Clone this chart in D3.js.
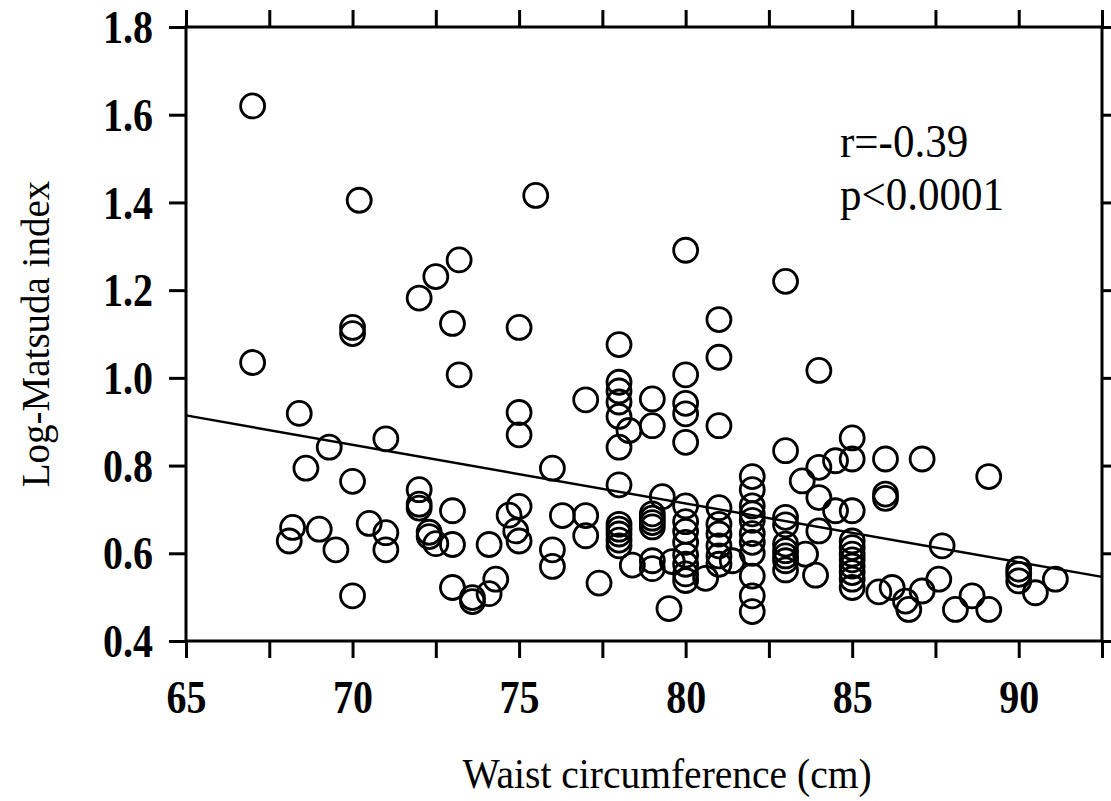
<!DOCTYPE html>
<html>
<head>
<meta charset="utf-8">
<script src="https://cdn.jsdelivr.net/npm/d3@7"></script>
<style>
   body { margin: 0; background: #fff; }
</style>
</head>
<body>
<div id="wrapper"></div>
<script>
// Waist circumference (cm) for each subject
const waist = [
   67.0, 67.0, 68.1, 68.2, 68.4, 68.6, 69.0, 69.3, 69.5,
   70.0, 70.0, 70.0, 70.0, 70.2, 70.5, 71.0, 71.0, 71.0,
   72.0, 72.0, 72.0, 72.0, 72.3, 72.3, 72.5, 72.5,
   73.0, 73.0, 73.0, 73.0, 73.2, 73.2, 73.6, 73.6,
   74.1, 74.1, 74.3, 74.7, 74.9,
   75.0, 75.0, 75.0, 75.0, 75.0, 75.5,
   76.0, 76.0, 76.0, 76.3,
   77.0, 77.0, 77.0, 77.4,
   78.0, 78.0, 78.0, 78.0, 78.0, 78.0, 78.0, 78.0, 78.0, 78.0, 78.0, 78.0, 78.3, 78.4,
   79.0, 79.0, 79.0, 79.0, 79.0, 79.0, 79.0, 79.0, 79.3, 79.5, 79.6,
   80.0, 80.0, 80.0, 80.0, 80.0, 80.0, 80.0, 80.0, 80.0, 80.0, 80.0, 80.0, 80.0, 80.6,
   81.0, 81.0, 81.0, 81.0, 81.0, 81.0, 81.0, 81.0, 81.0, 81.4,
   82.0, 82.0, 82.0, 82.0, 82.0, 82.0, 82.0, 82.0, 82.0, 82.0, 82.0,
   83.0, 83.0, 83.0, 83.0, 83.0, 83.0, 83.0, 83.0, 83.0, 83.5, 83.6, 83.9,
   84.0, 84.0, 84.0, 84.0, 84.5, 84.5,
   85.0, 85.0, 85.0, 85.0, 85.0, 85.0, 85.0, 85.0, 85.0, 85.0, 85.0, 85.8,
   86.0, 86.0, 86.0, 86.2, 86.6, 86.7,
   87.1, 87.1, 87.6, 87.7, 88.1, 88.6, 89.1, 89.1,
   90.0, 90.0, 90.0, 90.5, 91.1
];

// Log-Matsuda index, same order as waist
const logMatsuda = [
   1.620, 1.035, 0.628, 0.659, 0.919, 0.794, 0.655, 0.842, 0.608,
   1.115, 1.101, 0.764, 0.503, 1.405, 0.668, 0.861, 0.647, 0.608,
   1.182, 0.745, 0.712, 0.703, 0.648, 0.638, 1.231, 0.622,
   1.124, 0.697, 0.620, 0.522, 1.269, 1.007, 0.499, 0.490,
   0.620, 0.508, 0.541, 0.687, 0.651,
   1.115, 0.921, 0.870, 0.707, 0.628, 1.416,
   0.794, 0.608, 0.570, 0.686,
   0.950, 0.686, 0.640, 0.532,
   1.076, 0.990, 0.970, 0.945, 0.912, 0.842, 0.756, 0.666, 0.655, 0.644, 0.630, 0.617, 0.880, 0.573,
   0.952, 0.891, 0.690, 0.680, 0.670, 0.660, 0.583, 0.565, 0.729, 0.474, 0.581,
   1.291, 1.007, 0.942, 0.918, 0.853, 0.708, 0.672, 0.650, 0.625, 0.596, 0.575, 0.553, 0.538, 0.543,
   1.133, 1.047, 0.891, 0.704, 0.666, 0.644, 0.617, 0.594, 0.575, 0.583,
   0.775, 0.745, 0.708, 0.690, 0.675, 0.645, 0.625, 0.600, 0.548, 0.503, 0.467,
   1.220, 0.834, 0.682, 0.665, 0.621, 0.606, 0.594, 0.583, 0.562, 0.765, 0.598, 0.550,
   1.017, 0.796, 0.727, 0.651, 0.811, 0.697,
   0.863, 0.815, 0.697, 0.628, 0.613, 0.598, 0.585, 0.571, 0.556, 0.541, 0.522, 0.512,
   0.815, 0.735, 0.725, 0.522, 0.491, 0.472,
   0.815, 0.514, 0.541, 0.617, 0.472, 0.503, 0.775, 0.472,
   0.564, 0.552, 0.537, 0.510, 0.541
];

// regression line y = a + b*x
const regIntercept = 1.784;
const regSlope = -0.01338;

const xTicks = [65, 67.5, 70, 72.5, 75, 77.5, 80, 82.5, 85, 87.5, 90, 92.5];
const xTickLabels = [65, 70, 75, 80, 85, 90];
const yTicks = [0.4, 0.6, 0.8, 1.0, 1.2, 1.4, 1.6, 1.8];
const statLines = ["r=-0.39", "p<0.0001"];

let width = 1111;
let height = 801;
let margin = {top: 27, right: 9, bottom: 160, left: 186};
const serif = "'Liberation Serif', 'Times New Roman', serif";
const stretch = 1.15; // the scanned labels look a bit taller than plain Times

let svg = d3.select("#wrapper")
 .append("svg")
   .attr("width", width)
   .attr("height", height)
   .style("font-family", serif);

svg.append("rect")
   .attr("width", width)
   .attr("height", height)
   .attr("fill", "#fff");

let x = d3.scaleLinear()
   .domain([65, 92.5])
   .range([margin.left, width - margin.right]);

let y = d3.scaleLinear()
   .domain([0.4, 1.8])
   .range([height - margin.bottom, margin.top]);

const tickLen = 17;

// ticks on all four sides, only bottom + left get labels
let gBottom = svg.append("g")
   .attr("transform", `translate(0,${y(0.4)})`)
   .call(d3.axisBottom(x).tickValues(xTicks).tickSize(tickLen).tickSizeOuter(0)
      .tickFormat(d => xTickLabels.includes(d) ? d : ""));

let gTop = svg.append("g")
   .attr("transform", `translate(0,${y(1.8)})`)
   .call(d3.axisTop(x).tickValues(xTicks).tickSize(tickLen).tickSizeOuter(0).tickFormat(""));

let gLeft = svg.append("g")
   .attr("transform", `translate(${x(65)},0)`)
   .call(d3.axisLeft(y).tickValues(yTicks).tickSize(tickLen).tickSizeOuter(0)
      .tickFormat(d3.format(".1f")));

let gRight = svg.append("g")
   .attr("transform", `translate(${x(92.5)},0)`)
   .call(d3.axisRight(y).tickValues(yTicks).tickSize(tickLen).tickSizeOuter(0).tickFormat(""));

[gBottom, gTop, gLeft, gRight].forEach(g => {
   g.attr("font-family", serif); // d3 puts sans-serif on the axis group
   g.select(".domain").remove();
   g.selectAll(".tick line").attr("stroke", "#000").attr("stroke-width", 3);
   g.selectAll(".tick text")
      .attr("fill", "#000")
      .style("font-family", serif)
      .style("font-size", "40px")
      .style("font-weight", "bold");
});

gBottom.selectAll(".tick text")
   .attr("y", 0).attr("dy", null)
   .attr("transform", `translate(0,72) scale(1,${stretch})`);
gLeft.selectAll(".tick text")
   .attr("x", -33).attr("dy", "0.34em")
   .attr("transform", `scale(1,${stretch})`);

// the box
svg.append("rect")
   .attr("x", x(65))
   .attr("y", y(1.8))
   .attr("width", x(92.5) - x(65))
   .attr("height", y(0.4) - y(1.8))
   .attr("fill", "none")
   .attr("stroke", "#000")
   .attr("stroke-width", 3);

// regression line
svg.append("line")
   .attr("x1", x(65))
   .attr("y1", y(regIntercept + regSlope * 65))
   .attr("x2", x(92.5))
   .attr("y2", y(regIntercept + regSlope * 92.5))
   .attr("stroke", "#000")
   .attr("stroke-width", 2.4);

// open circles
svg.append("g")
   .attr("fill", "none")
   .attr("stroke", "#000")
   .attr("stroke-width", 2.8)
 .selectAll("circle")
 .data(waist.map((w, i) => ({w: w, m: logMatsuda[i]})))
 .join("circle")
   .attr("cx", d => x(d.w))
   .attr("cy", d => y(d.m))
   .attr("r", 12);

// r and p
svg.append("g")
 .selectAll("text")
 .data(statLines)
 .join("text")
   .attr("transform", (d, i) => `translate(840,${157 + i * 53}) scale(1,1.08)`)
   .style("font-size", "43px")
   .text(d => d);

// axis titles
svg.append("text")
   .attr("transform", `translate(667,788) scale(1,1.08)`)
   .attr("text-anchor", "middle")
   .style("font-size", "39.5px")
   .text("Waist circumference (cm)");

svg.append("text")
   .attr("transform", `translate(49,${(y(0.4) + y(1.8)) / 2}) rotate(-90)`)
   .attr("text-anchor", "middle")
   .style("font-size", "39px")
   .text("Log-Matsuda index");
</script>
</body>
</html>
